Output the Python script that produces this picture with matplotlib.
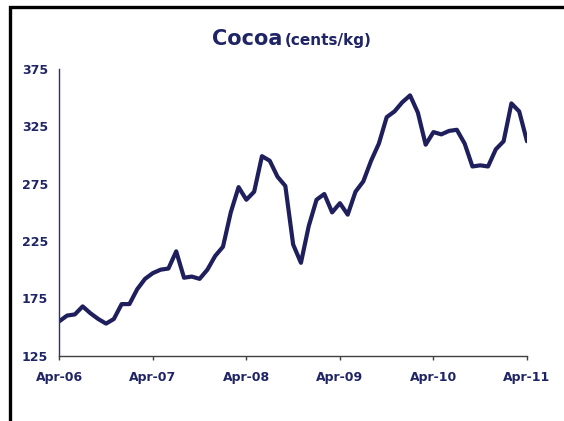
import matplotlib
matplotlib.use("Agg")
import matplotlib.pyplot as plt
from matplotlib.lines import Line2D

# monthly cocoa price, Apr-06 .. Apr-11 (cents/kg)
months = list(range(61))
cocoa = [
    155, 160, 161, 168, 162, 157, 153, 157, 170, 170, 183, 192,
    197, 200, 201, 216, 193, 194, 192, 200, 212, 220, 250, 272,
    261, 268, 299, 295, 281, 273, 222, 206, 238, 261, 266, 250,
    258, 248, 268, 277, 295, 310, 333, 338, 346, 352, 337, 309,
    320, 318, 321, 322, 310, 290, 291, 290, 305, 312, 345, 338,
    312,
]
tick_months = [0, 12, 24, 36, 48, 60]
tick_labels = ["Apr-06", "Apr-07", "Apr-08", "Apr-09", "Apr-10", "Apr-11"]
y_ticks = [125, 175, 225, 275, 325, 375]

NAVY = "#1e1f5c"
TEXT = "#1f2466"

fig = plt.figure(figsize=(5.64, 4.21), dpi=100)
ax = fig.add_axes([0.1051, 0.1551, 0.8293, 0.6810])

ax.plot(months, cocoa, color=NAVY, lw=3.0, solid_joinstyle="round", solid_capstyle="round")
ax.set_xlim(0, 60)
ax.set_ylim(125, 375)
ax.set_xticks(tick_months)
ax.set_xticklabels(tick_labels)
ax.set_yticks(y_ticks)

for side in ("top", "right"):
    ax.spines[side].set_visible(False)
ax.spines["left"].set_color("#2b2f7a")
ax.spines["left"].set_linewidth(1.0)
ax.spines["bottom"].set_color("#404040")
ax.spines["bottom"].set_linewidth(1.0)

ax.tick_params(axis="x", direction="out", length=3, width=1, color="#404040", pad=8,
               labelsize=9, labelcolor=TEXT)
ax.tick_params(axis="y", length=0, pad=8, labelsize=9, labelcolor=TEXT)
for label in ax.get_xticklabels() + ax.get_yticklabels():
    label.set_fontweight("bold")

fig.text(0.5, 1 - 45 / 421, "Cocoa", ha="right", va="baseline",
         fontsize=15, fontweight="bold", color=TEXT)
fig.text(0.505, 1 - 45 / 421, "(cents/kg)", ha="left", va="baseline",
         fontsize=11, fontweight="bold", color=TEXT)

# black frame on the top and left edges
fig.add_artist(Line2D([10 / 564, 10 / 564, 1.0], [0.0, 1 - 6.5 / 421, 1 - 6.5 / 421],
                      transform=fig.transFigure, color="black", lw=2.4,
                      solid_joinstyle="miter"))

fig.savefig("out.png", dpi=100)
